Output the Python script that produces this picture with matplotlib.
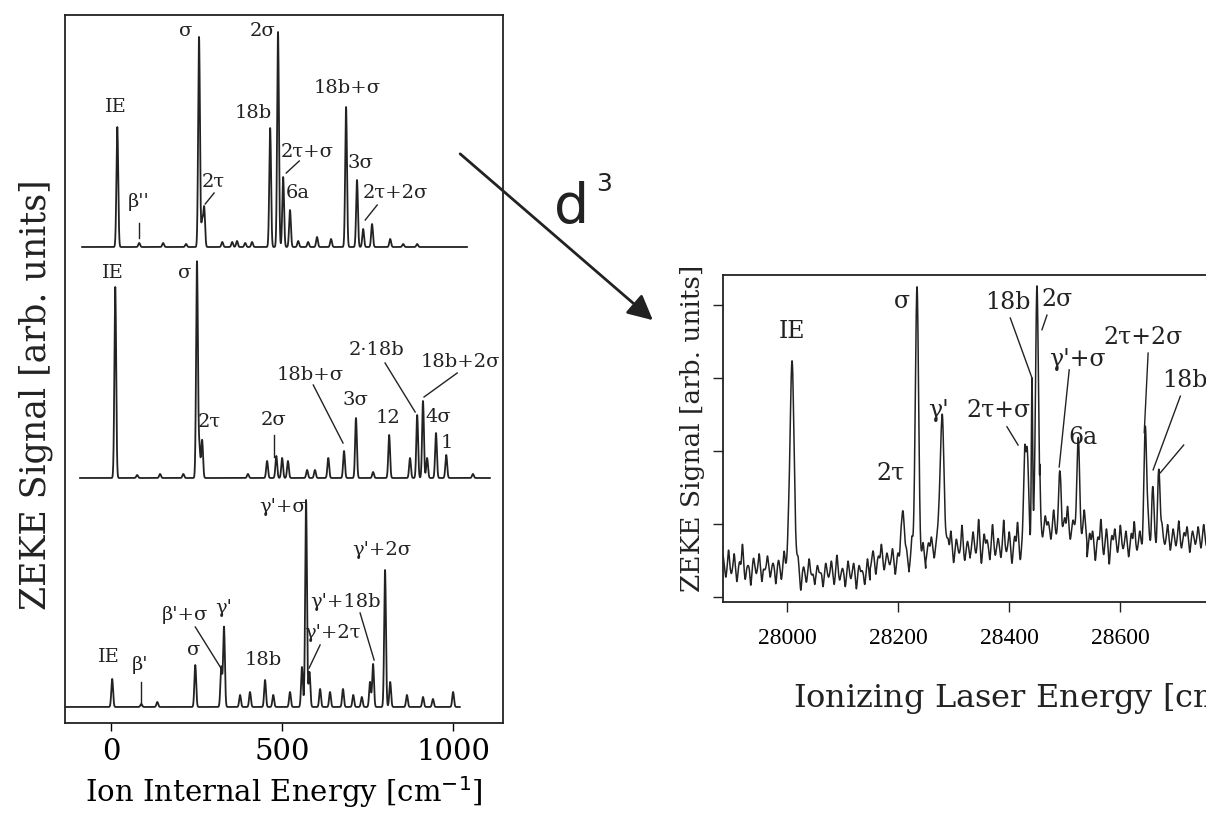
import numpy as np
import matplotlib.pyplot as plt
from matplotlib.patches import FancyArrowPatch

# ---- left panel: three ZEKE spectra vs ion internal energy (cm-1) ----
# peak positions and heights (arb. units, stacked with baselines)
top_pos = [18, 82, 152, 219, 257, 266, 272, 325, 354, 368, 392, 412, 465, 488, 503, 523,
           547, 576, 602, 643, 687, 719, 737, 763, 816, 854, 895]
top_hts = [120, 4, 4, 3, 210, 25, 39, 5, 5, 6, 4, 5, 119, 215, 70, 37,
           6, 5, 10, 8, 140, 67, 18, 23, 8, 3, 3]
top_base = 476
top_range = (-85, 1041)

mid_pos = [12, 76, 143, 211, 251, 258, 266, 400, 456, 483, 500, 517, 573, 596, 635, 681,
           716, 766, 813, 874, 895, 912, 924, 950, 980, 1058]
mid_hts = [191, 3, 4, 4, 216, 30, 38, 4, 17, 22, 20, 17, 8, 8, 20, 27,
           60, 6, 43, 20, 63, 77, 20, 45, 23, 4]
mid_base = 245
mid_range = (-91, 1108)

bot_pos = [3, 88, 135, 246, 322, 330, 377, 406, 450, 474, 523, 558, 570, 580, 611, 640,
           678, 708, 733, 757, 766, 801, 816, 865, 912, 941, 1000]
bot_hts = [28, 3, 5, 42, 40, 80, 12, 15, 27, 12, 15, 40, 207, 35, 18, 15,
           18, 12, 10, 25, 43, 137, 25, 12, 10, 8, 15]
bot_base = 16
bot_range = (-134, 1020)

# ---- right panel: d3 spectrum vs ionizing laser energy (cm-1) ----
r_pos = [28009, 28209, 28234, 28279, 28428, 28432, 28441, 28450, 28492, 28524, 28645, 28658, 28669]
r_hts = [2.8, 0.73, 3.6, 1.68, 1.1, 1.3, 2.35, 3.75, 0.69, 1.08, 1.46, 0.67, 0.87]
r_wid = [4.0, 2.5, 3.0, 4.0, 2.0, 2.5, 1.2, 2.5, 2.5, 2.5, 2.5, 2.0, 2.5]
# baseline level steps: (start energy, level)
r_step_x = [27885, 28005, 28150, 28220, 28250, 28330, 28455, 28540, 28640]
r_step_y = [0.40, 0.33, 0.50, 0.55, 0.66, 0.70, 0.95, 0.74, 0.80]
# noise wiggles, one every 5 cm-1 from 27885 (x0.01 arb. units)
r_noise = [16, -13, 24, -8, 19, -19, 8, 32, -16, 3,
           -24, 13, -8, 19, -19, -3, 16, -13, 6, -22,
           10, -16, 22, -6, -19, 13, -10, 16, -24, 8,
           -13, 19, -3, -16, 10, 0, -19, 13, -6, 16,
           -16, 24, -10, 6, -19, 16, -8, 13, -22, 10,
           3, -16, 19, -10, 13, -19, 6, 22, -13, 10,
           -6, 16, -19, 10, 19, -8, 13, -16, 24, -3,
           13, -10, 19, -16, 8, 16, -13, 6, -10, 19,
           -16, 10, 24, -19, 13, -6, 32, -16, 10, -13,
           19, -10, 36, -24, 16, 8, -19, 29, -13, 10,
           -16, 35, -8, 19, -24, 13, 32, -19, 10, -32,
           16, -8, 24, -19, 36, -13, 16, 8, -16, 24,
           -10, 19, -24, 13, 29, -16, 10, -8, 19, -13,
           24, -19, 13, 16, -24, 8, 32, -16, 19, -29,
           10, 19, -13, 24, -8, 16, -19, 13, 29, -10,
           16, -13, 8, 19, -16, 13, -24, 10, 16, -8,
           19, -16, 13, -10, 24, -13, 8, 16, -19, 10,
           -8, 16, -13, 19, -10, 13, 8, -16, 10, 3]
r_range = (27885, 28775)

INK = '#222222'
SERIF = 'DejaVu Serif'


def lines(x, pos, hts, wid):
    y = np.zeros_like(x)
    for p, h, w in zip(pos, hts, np.broadcast_to(wid, len(pos))):
        y += h * np.exp(-0.5 * ((x - p) / w) ** 2)
    return y


fig = plt.figure(figsize=(12.06, 8.16), dpi=100)

# ================= left panel =================
ax = fig.add_axes([0.0539, 0.1140, 0.3632, 0.8676])
for pos, hts, base, (x0, x1) in [(top_pos, top_hts, top_base, top_range),
                                 (mid_pos, mid_hts, mid_base, mid_range),
                                 (bot_pos, bot_hts, bot_base, bot_range)]:
    x = np.arange(x0, x1, 0.5)
    ax.plot(x, base + lines(x, pos, hts, 2.6), color=INK, lw=1.3)

ax.set_xlim(-135, 1146)
ax.set_ylim(0, 708)
ax.set_yticks([])
ax.set_xticks([0, 500, 1000])
ax.tick_params(axis='x', direction='out', length=6, width=1, pad=5, labelsize=21)
for lab in ax.get_xticklabels():
    lab.set_fontfamily(SERIF)
ax.set_xlabel('Ion Internal Energy [cm$^{-1}$]', fontsize=21, family=SERIF, labelpad=6)
for s in ax.spines.values():
    s.set_linewidth(1.3)
    s.set_color(INK)

kw = dict(fontsize=14, family=SERIF, color=INK, ha='center', va='center')
left_labels = [
    ('IE', 15, 616), ("β''", 79, 521), ('σ', 219, 692), ('2σ', 442, 692),
    ('18b', 415, 610), ('2τ+σ', 573, 571), ('6a', 547, 530), ('2τ', 298, 541),
    ('18b+σ', 690, 635), ('3σ', 728, 560), ('2τ+2σ', 830, 530),
    ('IE', 6, 450), ('σ', 216, 450), ('2τ', 287, 301), ('2σ', 474, 303),
    ('18b+σ', 582, 348), ('3σ', 713, 323), ('12', 810, 305), ('2·18b', 777, 373),
    ('18b+2σ', 1020, 361), ('4σ', 956, 306), ('1', 982, 280),
    ('IE', -6, 66), ("β'", 85, 58), ('σ', 240, 73), ("β'+σ", 216, 108),
    ("γ'", 328, 115), ('18b', 444, 63), ("γ'+σ", 500, 216), ("γ'+18b", 684, 121),
    ("γ'+2τ", 646, 90), ("γ'+2σ", 792, 173),
]
for t, x, y in left_labels:
    ax.text(x, y, t, **kw)
left_leaders = [
    ((82, 82), (500, 485)), ((550, 512), (562, 550)), ((301, 275), (530, 519)),
    ((778, 743), (518, 503)),
    ((477, 477), (288, 266)), ((591, 678), (338, 280)), ((801, 889), (360, 311)),
    ((1012, 915), (350, 326)),
    ((88, 88), (41, 18)), ((246, 319), (96, 56)), ((728, 769), (110, 63)),
    ((611, 579), (78, 55)),
]
for xs, ys in left_leaders:
    ax.plot(xs, ys, color=INK, lw=1)

fig.text(0.030, 0.516, 'ZEKE Signal [arb. units]', rotation=90, fontsize=25,
         family=SERIF, color=INK, ha='center', va='center')

# ================= arrow =================
arr = FancyArrowPatch((0.3798, 0.8137), (0.5431, 0.6054), transform=fig.transFigure,
                      arrowstyle='-|>', mutation_scale=38, lw=2, color=INK)
fig.add_artist(arr)
fig.text(0.474, 0.745, 'd', fontsize=40, family='DejaVu Sans', color=INK,
         ha='center', va='center')
fig.text(0.501, 0.775, '3', fontsize=18, family='DejaVu Sans', color=INK,
         ha='center', va='center')

# ================= right panel =================
ax2 = fig.add_axes([0.5995, 0.2623, 0.4677, 0.4007])
xr = np.arange(r_range[0], r_range[1], 0.25)
base = np.select([xr >= s for s in r_step_x[::-1]], r_step_y[::-1], r_step_y[0])
noise_x = r_range[0] + 5 * np.arange(len(r_noise))
yr = base + lines(xr, r_pos, r_hts, r_wid) + lines(xr, noise_x, np.array(r_noise) / 100, 1.3)
ax2.plot(xr, yr, color=INK, lw=1.1)
ax2.set_xlim(27885, 28900)
ax2.set_ylim(-0.07, 4.41)
ax2.set_xticks([28000, 28200, 28400, 28600])
ax2.set_yticks([0, 1, 2, 3, 4])
ax2.set_yticklabels([])
ax2.tick_params(direction='out', length=7, width=1, color=INK)
ax2.tick_params(axis='x', labelsize=17, pad=12)
for lab in ax2.get_xticklabels():
    lab.set_fontfamily('Liberation Serif')
for s in ax2.spines.values():
    s.set_linewidth(1.3)
    s.set_color(INK)
ax2.text(0.124, -0.29, 'Ionizing Laser Energy [cm$^{-1}$]', transform=ax2.transAxes,
         fontsize=23, family=SERIF, color=INK, ha='left', va='center')
fig.text(0.574, 0.475, 'ZEKE Signal [arb. units]', rotation=90, fontsize=19,
         family=SERIF, color=INK, ha='center', va='center')

kw2 = dict(fontsize=17, family=SERIF, color=INK, ha='center', va='center')
right_labels = [
    ('IE', 28009, 3.63), ('σ', 28207, 4.04), ('18b', 28398, 4.03), ('2σ', 28486, 4.07),
    ("γ'+σ", 28523, 3.25), ('6a', 28533, 2.19), ("γ'", 28272, 2.56),
    ('2τ+σ', 28380, 2.56), ('2τ', 28186, 1.70), ('2τ+2σ', 28641, 3.56),
]
for t, x, y in right_labels:
    ax2.text(x, y, t, **kw2)
ax2.text(28676, 2.96, '18b+σ', fontsize=17, family=SERIF, color=INK, ha='left', va='center')
right_leaders = [
    ((28402, 28441), (3.82, 3.0)), ((28468, 28459), (3.86, 3.66)),
    ((28508, 28490), (3.11, 1.78)), ((28396, 28416), (2.33, 2.08)),
    ((28650, 28643), (3.34, 2.25)), ((28708, 28659), (2.75, 1.74)),
    ((28714, 28672), (2.08, 1.70)),
]
for xs, ys in right_leaders:
    ax2.plot(xs, ys, color=INK, lw=1)

fig.savefig('out.png', dpi=100)
